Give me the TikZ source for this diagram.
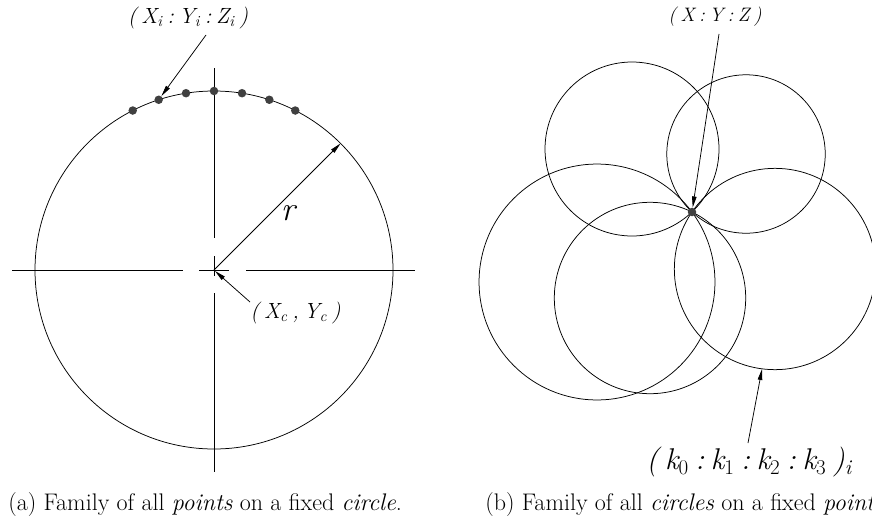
\documentclass[tikz,border=0pt]{standalone}
\usepackage{fontspec}
\usetikzlibrary{arrows.meta}
\usetikzlibrary{calc}

\newcommand{\tsp}{\hspace{0.22em}}

\begin{document}
\begin{tikzpicture}[
    x=1pt, y=-1pt,
    line width=0.75pt,
    ptarrow/.style={-{Triangle[length=11pt,width=4.5pt]}, line width=0.75pt},
    ptdot/.style={circle, fill=black!75, inner sep=0pt, minimum size=8.5pt},
    lbl/.style={font=\fontsize{#1}{#1}\selectfont\itshape, inner sep=0pt},
    lbl/.default=22,
    caplbl/.style={font=\fontsize{24}{26}\selectfont, anchor=base west, inner sep=0pt}
]
\useasboundingbox (0,0) rectangle (872,525);
\clip (0,0) rectangle (872,525);

% (a) points on a fixed circle
\coordinate (ctr) at (214,270);
\draw (ctr) circle (179);
\draw (12,270) -- (183,270);
\draw (199,270) -- (229,270);
\draw (246,270) -- (415,270);
\draw (214,68) -- (214,238);
\draw (214,256) -- (214,276);
\draw (214,293) -- (214,472);

\foreach \a [count=\k] in {-117,-108,-99,-90,-81,-72,-63}
    \node[ptdot] (dot\k) at ($(ctr)+(\a:179)$) {};

\coordinate (rim) at ($(ctr)+(-45:179)$);
\draw[ptarrow] (ctr) -- (rim);
\node[lbl=34] (rlbl) at (288,213) {r};

\node[lbl] (lblXi) at (188,18)
    {(\tsp X\textsubscript{i}\tsp:\tsp Y\textsubscript{i}\tsp:\tsp Z\textsubscript{i}\tsp)};
\coordinate (tailXi) at (206,35);
\draw[ptarrow] (tailXi) -- (dot2);

\node[lbl, anchor=west] (lblXc) at (250,313) {(\tsp X\textsubscript{c}\tsp,\tsp Y\textsubscript{c}\tsp)};
\coordinate (tailXc) at (250,302);
\coordinate (tipXc) at (215,271);
\draw[ptarrow] (tailXc) -- (tipXc);

% (b) circles on a fixed point
\coordinate (pt) at (692,212);
\coordinate (c1) at (632,149);
\coordinate (c2) at (746,154);
\coordinate (c3) at (597,282);
\coordinate (c4) at (650,298);
\coordinate (c5) at (775,269);
\foreach \c in {c1,c2,c3,c4,c5}
    \draw let \p1=($(pt)-(\c)$), \n1={veclen(\x1,\y1)} in (\c) circle (\n1);
\node[ptdot] (ptdot) at (pt) {};

\node[lbl=19.5] (lblXYZ) at (715,17) {(\tsp X\tsp:\tsp Y\tsp:\tsp Z\tsp)};
\coordinate (tailXYZ) at (719,34);
\draw[ptarrow] (tailXYZ) -- (ptdot);

\node[lbl=30] (lblk) at (749,462)
    {(\tsp k\textsubscript{\upshape 0}\tsp:\tsp k\textsubscript{\upshape 1}\tsp:\tsp k\textsubscript{\upshape 2}\tsp:\tsp k\textsubscript{\upshape 3}\tsp)\textsubscript{i}};
\coordinate (tailk) at (748,443);
\coordinate (tipk) at (762,369);
\draw[ptarrow] (tailk) -- (tipk);

% captions
\node[caplbl] (capa) at (8,510) {(a) Family of all \emph{points} on a fixed \emph{circle}.};
\node[caplbl] (capb) at (485,510) {(b) Family of all \emph{circles} on a fixed \emph{point}.};

\end{tikzpicture}
\end{document}
